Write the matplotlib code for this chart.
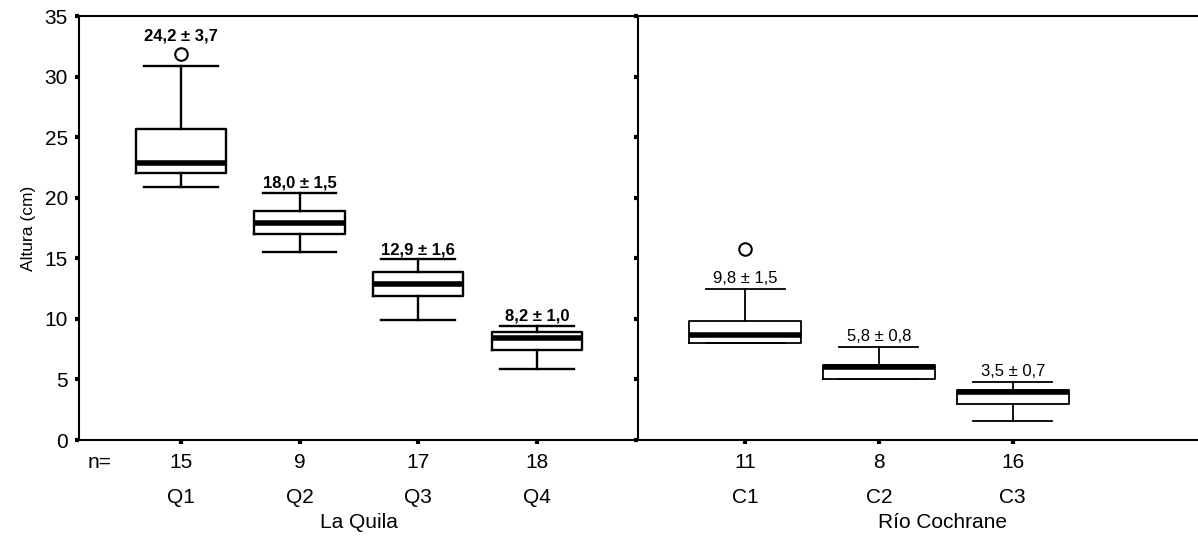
import matplotlib
matplotlib.use("Agg")
import matplotlib.pyplot as plt
import matplotlib.transforms as mtransforms

plt.rcParams['font.family'] = ['Liberation Sans', 'DejaVu Sans']

# La Quila sites
quila_sites = ["Q1", "Q2", "Q3", "Q4"]
quila_n = [15, 9, 17, 18]
quila_q1 = [22.0, 17.0, 11.9, 7.4]
quila_med = [22.9, 17.9, 12.9, 8.4]
quila_q3 = [25.7, 18.9, 13.9, 8.9]
quila_lo = [20.9, 15.5, 9.9, 5.9]
quila_hi = [30.9, 20.4, 14.9, 9.4]
quila_out = [[31.9], [], [], []]
quila_lab = ["24,2 ± 3,7", "18,0 ± 1,5", "12,9 ± 1,6", "8,2 ± 1,0"]
quila_lab_over_out = [True, False, False, False]

# Rio Cochrane sites
coch_sites = ["C1", "C2", "C3"]
coch_n = [11, 8, 16]
coch_q1 = [8.0, 5.0, 3.0]
coch_med = [8.7, 6.0, 4.0]
coch_q3 = [9.8, 6.2, 4.1]
coch_lo = [8.0, 5.0, 1.6]
coch_hi = [12.5, 7.7, 4.8]
coch_out = [[15.75], [], []]
coch_lab = ["9,8 ± 1,5", "5,8 ± 0,8", "3,5 ± 0,7"]
coch_lab_over_out = [False, False, False]


def make_stats(q1, med, q3, lo, hi, out):
    stats = []
    for i in range(len(med)):
        stats.append({"med": med[i], "q1": q1[i], "q3": q3[i],
                      "whislo": lo[i], "whishi": hi[i], "fliers": out[i]})
    return stats


fig = plt.figure(figsize=(11.98, 5.38), dpi=100)
W, H = 1198.0, 538.0
bottom = 1 - 440 / H
height = (440 - 16) / H
ax1 = fig.add_axes([79 / W, bottom, (638 - 79) / W, height])
ax2 = fig.add_axes([638 / W, bottom, (1247 - 638) / W, height])


def draw_panel(ax, stats, n, sites, labels, over_out, widths, capw, lw, bold, xlim):
    pos = list(range(1, len(stats) + 1))
    ax.bxp(stats, positions=pos, widths=widths, capwidths=capw, manage_ticks=False,
           boxprops=dict(color="black", linewidth=lw),
           whiskerprops=dict(color="black", linewidth=lw),
           capprops=dict(color="black", linewidth=lw),
           medianprops=dict(color="black", linewidth=4, solid_capstyle="butt"),
           flierprops=dict(marker="o", markerfacecolor="white", markeredgecolor="black",
                           markersize=9, markeredgewidth=1.5))
    ax.set_xlim(*xlim)
    ax.set_ylim(0, 35)
    ax.set_xticks(pos)
    ax.set_xticklabels([str(v) for v in n], fontsize=15)
    ax.tick_params(axis="both", direction="out", length=3, width=3, pad=6)
    for sp in ax.spines.values():
        sp.set_linewidth(1.5)
    trans = mtransforms.blended_transform_factory(ax.transData, ax.transAxes)
    for i, p in enumerate(pos):
        ax.text(p, -0.135, sites[i], transform=trans, ha="center", va="center", fontsize=15)
        top = stats[i]["whishi"]
        if over_out[i]:
            top = max(stats[i]["fliers"]) + 0.6
        ax.text(p, top + 0.2, labels[i], ha="center", va="bottom", fontsize=12,
                fontweight="bold" if bold else "normal")


s1 = make_stats(quila_q1, quila_med, quila_q3, quila_lo, quila_hi, quila_out)
s2 = make_stats(coch_q1, coch_med, coch_q3, coch_lo, coch_hi, coch_out)

draw_panel(ax1, s1, quila_n, quila_sites, quila_lab, quila_lab_over_out,
           0.76, 0.62, 1.7, True, (0.143, 4.85))
draw_panel(ax2, s2, coch_n, coch_sites, coch_lab, coch_lab_over_out,
           0.84, 0.59, 1.3, False, (0.2, 4.75))

ax1.set_yticks(range(0, 36, 5))
ax1.tick_params(axis="y", labelsize=15, pad=5)
ax1.spines["right"].set_visible(False)
ax1.set_ylabel("Altura (cm)", fontsize=12.5, labelpad=6)

ax2.set_yticks(range(0, 36, 5))
ax2.set_yticklabels([])
ax2.spines["right"].set_visible(False)

fig.text(88 / W, 1 - 463 / H, "n=", fontsize=15, ha="left", va="center")
fig.text((79 + 638) / 2 / W, 1 - 522 / H, "La Quila", fontsize=15, ha="center", va="center")
fig.text(943 / W, 1 - 522 / H, "Río Cochrane", fontsize=15, ha="center", va="center")

fig.savefig("out.png", dpi=100)
